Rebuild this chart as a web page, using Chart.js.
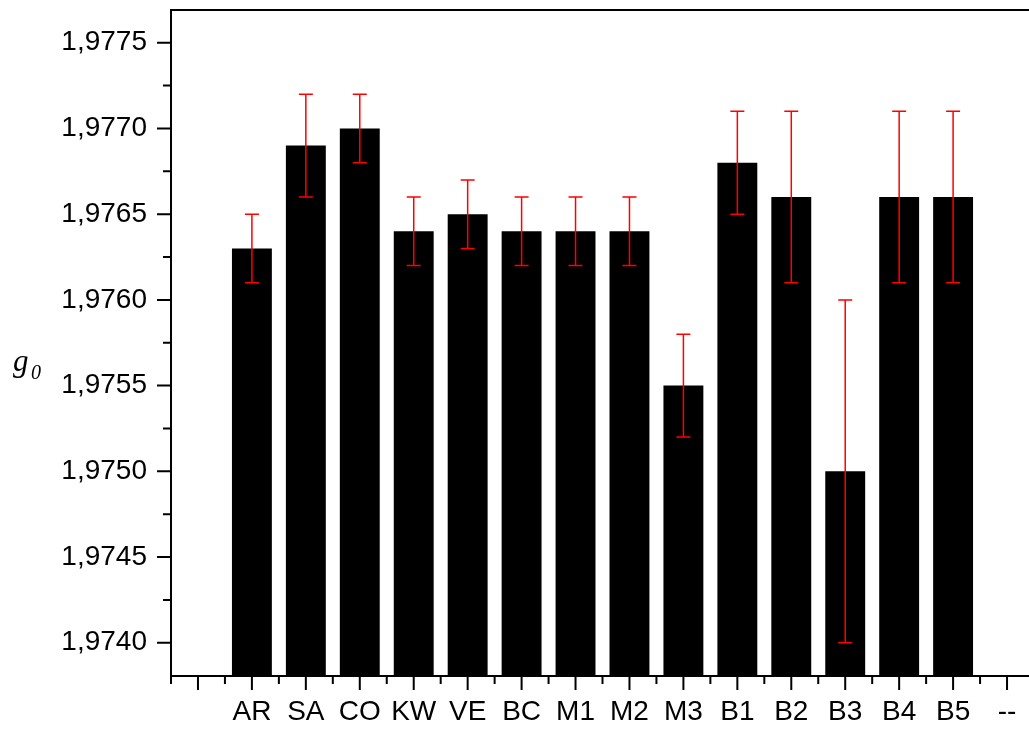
<!DOCTYPE html>
<html>
<head>
<meta charset="utf-8">
<script src="https://cdn.jsdelivr.net/npm/chart.js@4.4.1/dist/chart.umd.min.js"></script>
<style>
  html, body { margin: 0; padding: 0; background: #fff; }
  #wrap { width: 1029px; height: 729px; overflow: hidden; }
</style>
</head>
<body>
<div id="wrap"><canvas id="barChart" width="1040" height="729"></canvas></div>
<script>
// categories (first slot empty, last one is "--" like in the original plot)
var labels = ['', 'AR', 'SA', 'CO', 'KW', 'VE', 'BC', 'M1', 'M2', 'M3', 'B1', 'B2', 'B3', 'B4', 'B5', '--'];
var g0 = [null, 1.9763, 1.9769, 1.9770, 1.9764, 1.9765, 1.9764, 1.9764, 1.9764, 1.9755, 1.9768, 1.9766, 1.9750, 1.9766, 1.9766, null];
var g0err = [null, 0.0002, 0.0003, 0.0002, 0.0002, 0.0002, 0.0002, 0.0002, 0.0002, 0.0003, 0.0003, 0.0005, 0.0010, 0.0005, 0.0005, null];
var yTicks = [1.9740, 1.9745, 1.9750, 1.9755, 1.9760, 1.9765, 1.9770, 1.9775];
var yMin = 1.973806;
var yMax = 1.977691;

// red error bars + axes frame with major / minor ticks
const frame = {
    id: 'frame',
    afterDatasetsDraw(chart) {
        const ctx = chart.ctx;
        const x = chart.scales.x, y = chart.scales.y;
        ctx.save();
        ctx.strokeStyle = '#ff0000';
        ctx.lineWidth = 1.5;
        for (let i = 0; i < g0.length; i++) {
            if (g0[i] === null) continue;
            const px = x.getPixelForValue(i);
            const top = y.getPixelForValue(g0[i] + g0err[i]);
            const bot = y.getPixelForValue(g0[i] - g0err[i]);
            ctx.beginPath();
            ctx.moveTo(px, top); ctx.lineTo(px, bot);
            ctx.moveTo(px - 7, top); ctx.lineTo(px + 7, top);
            ctx.moveTo(px - 7, bot); ctx.lineTo(px + 7, bot);
            ctx.stroke();
        }
        ctx.restore();
    },
    afterDraw(chart) {
        const ctx = chart.ctx;
        const a = chart.chartArea;
        const x = chart.scales.x, y = chart.scales.y;
        ctx.save();
        ctx.strokeStyle = '#000';
        ctx.lineWidth = 2;
        ctx.beginPath();
        ctx.moveTo(a.left, a.top); ctx.lineTo(a.left, a.bottom + 1);
        ctx.moveTo(a.left - 1, a.bottom); ctx.lineTo(a.right, a.bottom);
        ctx.moveTo(a.left - 1, a.top); ctx.lineTo(a.right, a.top);
        // y ticks
        yTicks.forEach(function (v) {
            const py = y.getPixelForValue(v);
            ctx.moveTo(a.left - 14, py); ctx.lineTo(a.left, py);
            const m = v + 0.00025;
            if (m < yMax) {
                const pm = y.getPixelForValue(m);
                ctx.moveTo(a.left - 8, pm); ctx.lineTo(a.left, pm);
            }
        });
        // x ticks
        const step = x.getPixelForValue(1) - x.getPixelForValue(0);
        for (let i = 0; i < labels.length; i++) {
            const px = x.getPixelForValue(i);
            ctx.moveTo(px, a.bottom); ctx.lineTo(px, a.bottom + 14);
            const pb = px - step / 2;
            ctx.moveTo(pb, a.bottom); ctx.lineTo(pb, a.bottom + 8);
        }
        ctx.stroke();
        // axis title g0
        ctx.fillStyle = '#000';
        ctx.textBaseline = 'alphabetic';
        ctx.textAlign = 'left';
        ctx.font = 'italic 31px "Liberation Serif"';
        ctx.fillText('g', 13, 371);
        ctx.font = 'italic 20px "Liberation Serif"';
        ctx.fillText('0', 31, 379);
        ctx.restore();
    }
};

const ctx1 = document.getElementById('barChart').getContext('2d');
const myChart1 = new Chart(ctx1, {
    type: 'bar',
    data: {
        labels: labels,
        datasets: [{
            label: 'g0',
            data: g0,
            backgroundColor: '#000000',
            borderWidth: 0,
            categoryPercentage: 1.0,
            barPercentage: 0.74
        }]
    },
    options: {
        responsive: false,
        animation: false,
        devicePixelRatio: 1,
        layout: { padding: { top: 10, right: 6, left: 0, bottom: 0 } },
        plugins: { legend: { display: false }, tooltip: { enabled: false } },
        scales: {
            x: {
                type: 'category',
                offset: true,
                grid: { display: false, drawTicks: false },
                border: { display: false },
                ticks: {
                    color: '#000',
                    font: { family: '"Liberation Sans", Arial', size: 28 },
                    padding: 19,
                    maxRotation: 0,
                    autoSkip: false
                },
                afterFit: function (s) { s.height = 53; s.paddingLeft = 0; s.paddingRight = 0; }
            },
            y: {
                min: yMin,
                max: yMax,
                grid: { display: false, drawTicks: false },
                border: { display: false },
                afterBuildTicks: function (s) {
                    s.ticks = yTicks.map(function (v) { return { value: v }; });
                },
                ticks: {
                    color: '#000',
                    font: { family: '"Liberation Sans", Arial', size: 28 },
                    padding: 24,
                    callback: function (v) { return v.toFixed(4).replace('.', ','); }
                },
                afterFit: function (s) { s.width = 171; s.paddingTop = 0; s.paddingBottom = 0; }
            }
        }
    },
    plugins: [frame]
});
</script>
</body>
</html>
